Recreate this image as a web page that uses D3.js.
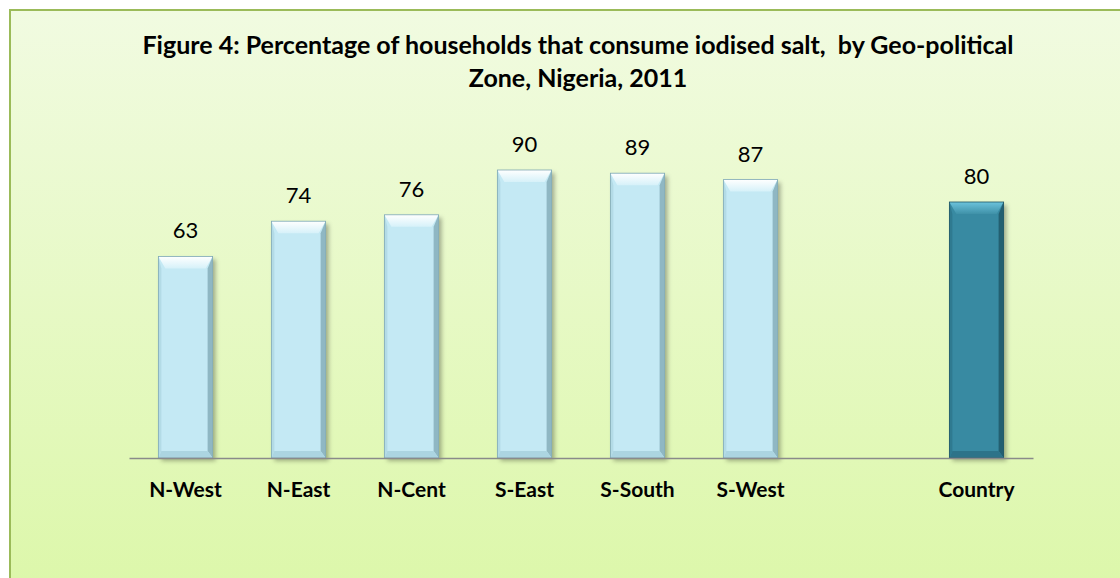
<!DOCTYPE html>
<html>
<head>
<meta charset="utf-8">
<script src="https://cdn.jsdelivr.net/npm/d3@7"></script>
<style>
 html, body { margin: 0; padding: 0; background: #fff; }
 svg { display: block; }
 text { white-space: pre; }
</style>
</head>
<body>
<div id="chart"></div>
<script>
// data
var categories = ["N-West", "N-East", "N-Cent", "S-East", "S-South", "S-West", "Country"];
var values = [63, 74, 76, 90, 89, 87, 80];
var titleLines = [
 "Figure 4: Percentage of households that consume iodised salt,  by Geo-political",
 "Zone, Nigeria, 2011"
];

// slots on the axis: an empty one sits before Country
var slots = categories.slice(0, 6).concat(["_gap"], categories.slice(6));

var W = 1120, H = 578;
var bevel = 7;

var svg = d3.select("#chart").append("svg")
 .attr("width", W)
 .attr("height", H);

var defs = svg.append("defs");

var bg = defs.append("linearGradient").attr("id", "bg")
 .attr("x1", 0).attr("y1", 0).attr("x2", 0).attr("y2", 1);
bg.append("stop").attr("offset", "0%").attr("stop-color", "#f1fbe1");
bg.append("stop").attr("offset", "100%").attr("stop-color", "#dcf7a9");

var shadow = defs.append("filter").attr("id", "shadow")
 .attr("x", "-20%").attr("y", "-10%").attr("width", "150%").attr("height", "130%");
shadow.append("feDropShadow")
 .attr("dx", 3).attr("dy", 3).attr("stdDeviation", 2)
 .attr("flood-color", "#000").attr("flood-opacity", 0.3);

function vGrad(id, c1, c2) {
 var g = defs.append("linearGradient").attr("id", id)
  .attr("x1", 0).attr("y1", 0).attr("x2", 0).attr("y2", 1);
 g.append("stop").attr("offset", "0%").attr("stop-color", c1);
 g.append("stop").attr("offset", "100%").attr("stop-color", c2);
}
vGrad("topLight", "#ffffff", "#d6f1f9");
vGrad("topDark", "#6cc3dc", "#3f91a8");

// chart area
svg.append("rect")
 .attr("x", 10).attr("y", 10)
 .attr("width", W + 10).attr("height", H + 10)
 .attr("fill", "url(#bg)")
 .attr("stroke", "#9bbb59")
 .attr("stroke-width", 2);

var x = d3.scaleBand()
 .domain(slots)
 .range([129, 1033])
 .paddingInner(0.52)
 .paddingOuter(0.26);

var y = d3.scaleLinear()
 .domain([0, 100])
 .range([458, 138]);

var data = categories.map(function (c, i) {
 return { cat: c, value: values[i], country: c === "Country" };
});

// title
svg.append("g").selectAll("text")
 .data(titleLines)
 .enter().append("text")
 .attr("x", 578)
 .attr("y", function (d, i) { return 54 + i * 33; })
 .attr("text-anchor", "middle")
 .attr("font-family", "Lato, 'Open Sans', sans-serif")
 .attr("font-weight", "bold")
 .attr("font-size", 25)
 .attr("fill", "#000")
 .text(function (d) { return d; });

// bars
var bars = svg.append("g").selectAll("g")
 .data(data)
 .enter().append("g")
 .attr("transform", function (d) { return "translate(" + x(d.cat) + "," + y(d.value) + ")"; });

var bw = x.bandwidth();

bars.append("rect")
 .attr("width", bw)
 .attr("height", function (d) { return y(0) - y(d.value); })
 .attr("fill", function (d) { return d.country ? "#398aa2" : "#c4e9f4"; })
 .attr("filter", "url(#shadow)");

// bevel: top, left, right, bottom facets
bars.append("polygon")
 .attr("points", function () {
  return [[0, 0], [bw, 0], [bw - bevel, bevel + 5], [bevel, bevel + 5]].join(" ");
 })
 .attr("fill", function (d) { return d.country ? "url(#topDark)" : "url(#topLight)"; });

bars.append("polygon")
 .attr("points", function (d) {
  var h = y(0) - y(d.value);
  return [[0, 0], [bevel - 4, bevel + 5], [bevel - 4, h - bevel], [0, h]].join(" ");
 })
 .attr("fill", function (d) { return d.country ? "#2f7a90" : "#b3dbe6"; });

bars.append("polygon")
 .attr("points", function (d) {
  var h = y(0) - y(d.value);
  return [[bw, 0], [bw, h], [bw - bevel + 2, h - bevel], [bw - bevel + 2, bevel + 5]].join(" ");
 })
 .attr("fill", function (d) { return d.country ? "#235f71" : "#8fb7c3"; });

bars.append("polygon")
 .attr("points", function (d) {
  var h = y(0) - y(d.value);
  return [[0, h], [bevel - 4, h - bevel], [bw - bevel + 2, h - bevel], [bw, h]].join(" ");
 })
 .attr("fill", function (d) { return d.country ? "#2d7389" : "#acd5e1"; });

bars.append("rect")
 .attr("width", bw)
 .attr("height", function (d) { return y(0) - y(d.value); })
 .attr("fill", "none")
 .attr("stroke", function (d) { return d.country ? "#1f5565" : "#7fa8b4"; })
 .attr("stroke-width", 0.8);

// value labels
bars.append("text")
 .attr("x", bw / 2)
 .attr("y", -18)
 .attr("text-anchor", "middle")
 .attr("font-family", "Lato, 'Open Sans', sans-serif")
 .attr("font-size", 22)
 .attr("fill", "#000")
 .text(function (d) { return d.value; });

// axis
var axis = svg.append("g")
 .attr("transform", "translate(0," + y(0) + ")")
 .call(d3.axisBottom(x).tickSize(0).tickPadding(0).tickFormat(function (d) { return d === "_gap" ? "" : d; }));

axis.select(".domain")
 .attr("stroke", "#8a8a8a")
 .attr("stroke-width", 1.5);

axis.selectAll("text")
 .attr("dy", 0)
 .attr("y", 39)
 .attr("font-family", "Lato, 'Open Sans', sans-serif")
 .attr("font-weight", "bold")
 .attr("font-size", 21)
 .attr("fill", "#000");
</script>
</body>
</html>
